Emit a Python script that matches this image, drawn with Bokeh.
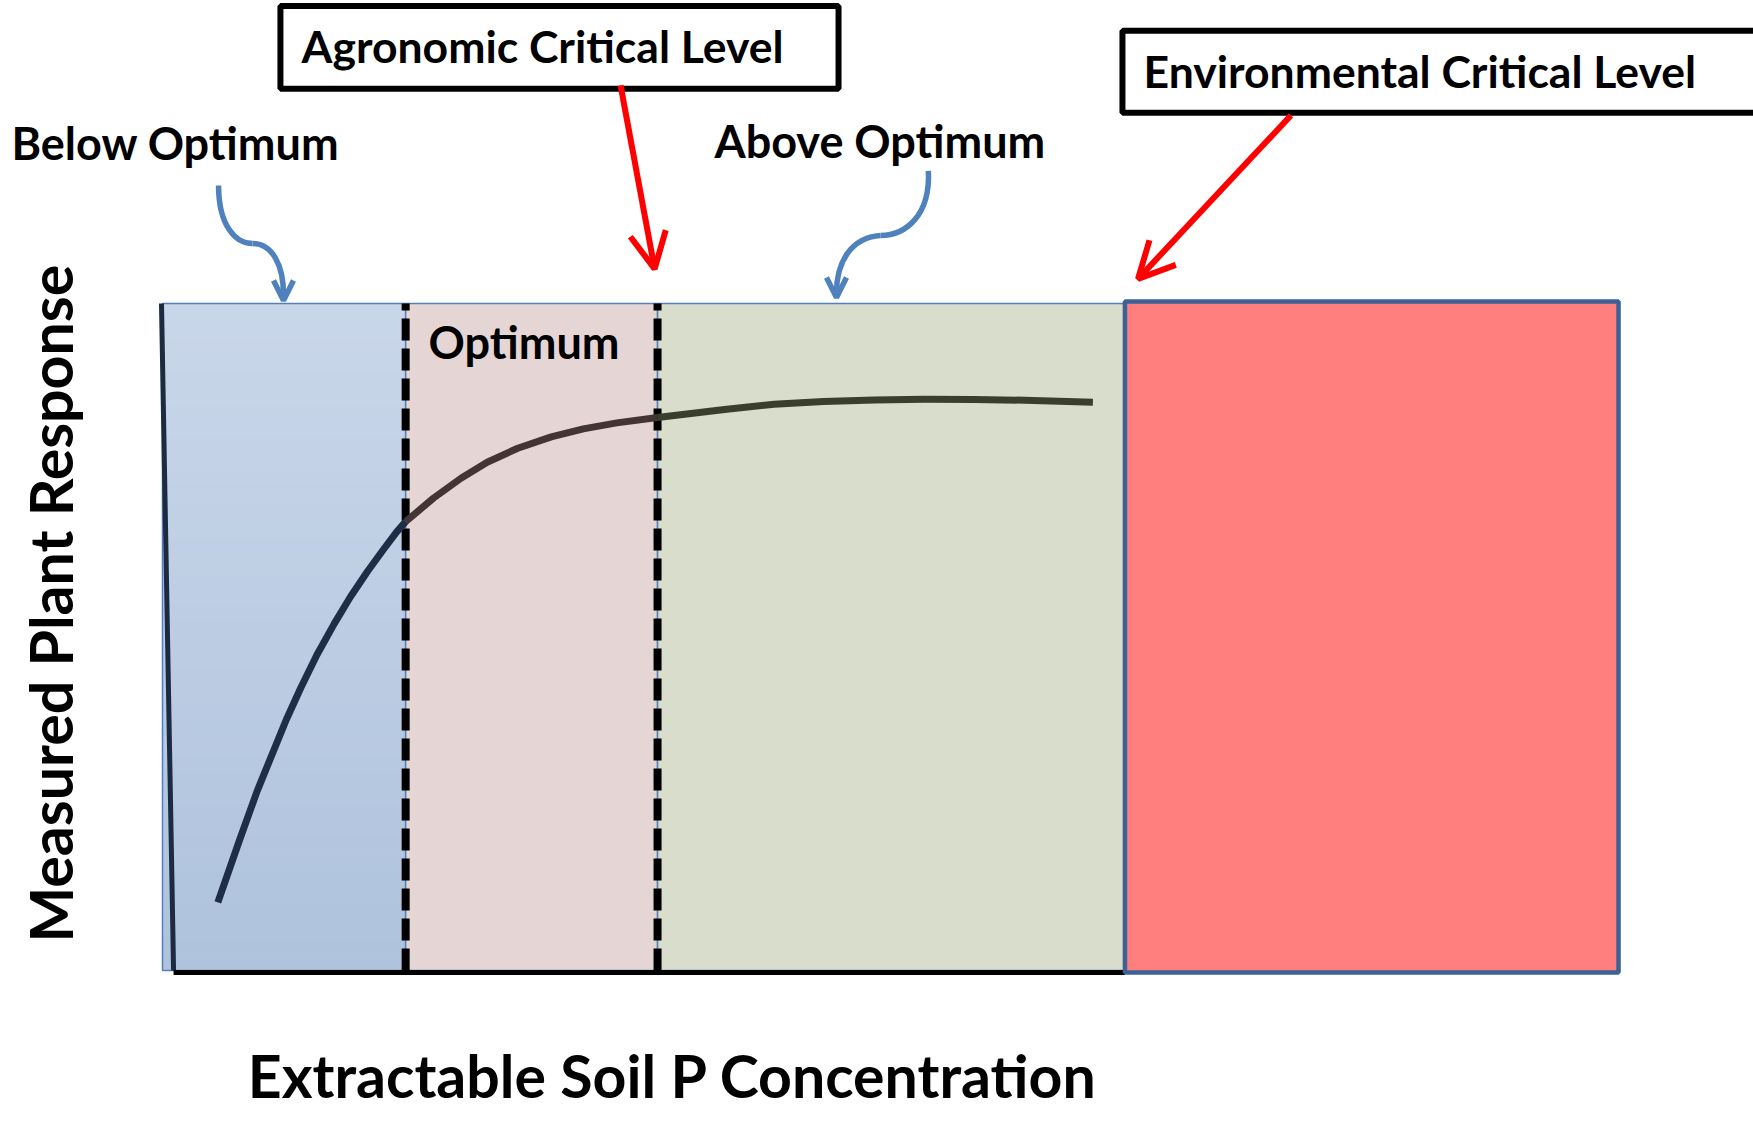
import numpy as np
from bokeh.plotting import figure
from bokeh.models import Range1d, Label, Arrow, OpenHead
from bokeh.embed import file_html
from bokeh.resources import INLINE

# ---------------- data ----------------
# zone boundaries along the soil-P axis (arbitrary units, 0-100)
zone_names = ["Below Optimum", "Optimum", "Above Optimum", "Environmental risk"]
zone_edges = [0.0, 16.7, 34.0, 66.1, 100.0]
zone_fill = ["#C0CFE5", "#E5D6D5", "#D9DDCB", "#FF7F7F"]
response_max = 100.0
dashed_levels = [16.7, 34.0]

# response curve (soil P vs. measured plant response)
curve_x = [3.8, 5.3, 6.5, 8.5, 9.5, 10.6, 11.8, 12.9, 14.1, 15.2, 16.1, 16.7,
           18.6, 20.5, 22.3, 24.4, 26.7, 28.9, 31.2, 34.0,
           38.6, 42.0, 45.4, 48.9, 52.3, 55.7, 59.2, 63.9]
curve_y = [10.2, 19.6, 26.9, 37.6, 42.4, 47.3, 52.0, 56.0, 59.9, 63.2, 65.8, 67.3,
           70.8, 73.8, 76.2, 78.3, 80.0, 81.2, 82.1, 82.9,
           84.1, 84.9, 85.3, 85.55, 85.65, 85.6, 85.5, 85.2]
curve_colors = ["#1E2E47", "#433535", "#3A3F2D"]

labels = ["Below Optimum", "Above Optimum", "Optimum",
          "Agronomic Critical Level", "Environmental Critical Level"]
x_title = "Extractable Soil P Concentration"
y_title = "Measured Plant Response"

FONT = "Lato"

p = figure(width=1753, height=1121, output_backend="svg", toolbar_location=None,
           x_range=Range1d(-11.126, 109.27), y_range=Range1d(-22.64, 145.43),
           min_border=0, min_border_left=0, min_border_right=0,
           min_border_top=0, min_border_bottom=0)
p.xaxis.visible = False
p.yaxis.visible = False
p.xgrid.visible = False
p.ygrid.visible = False
p.outline_line_color = None
p.background_fill_color = "white"
p.border_fill_color = "white"

# ---- blue zone with vertical gradient ----
n_b = 40
ys = np.linspace(0, response_max, n_b + 1)
c_bot = np.array([175, 195, 221])
c_top = np.array([202, 215, 234])
band_cols = []
for i in range(n_b):
    t = (i + 0.5) / n_b
    c = (c_bot + (c_top - c_bot) * t).astype(int)
    band_cols.append("#%02x%02x%02x" % tuple(c))
p.quad(left=[zone_edges[0]] * n_b, right=[zone_edges[1]] * n_b,
       bottom=ys[:-1], top=ys[1:], fill_color=band_cols, line_color=band_cols,
       line_width=1)
p.quad(left=[zone_edges[0]], right=[zone_edges[1]], bottom=[0], top=[response_max],
       fill_color=None, line_color="#4F81BD", line_width=1.5)

# optimum & above-optimum zones
p.quad(left=zone_edges[1:3], right=zone_edges[2:4], bottom=[0, 0],
       top=[response_max] * 2, fill_color=zone_fill[1:3],
       line_color="#4F81BD", line_width=1.5)

# dashed critical lines
for lv in dashed_levels:
    p.line([lv, lv], [0, response_max], line_color="black", line_width=8,
           line_dash="22 8")

# response curve, coloured per zone
i1 = curve_x.index(dashed_levels[0])
i2 = curve_x.index(dashed_levels[1])
seg = [(0, i1 + 1), (i1, i2 + 1), (i2, len(curve_x))]
for (a, b), col in zip(seg, curve_colors):
    p.line(curve_x[a:b], curve_y[a:b], line_color=col, line_width=7,
           line_cap="butt", line_join="round")

# left (slanted) axis stroke and bottom axis stroke
p.line([-0.07, 0.76], [response_max, 0], line_color="#1C2B42", line_width=5)
p.line([0.76, zone_edges[3]], [-0.3, -0.3], line_color="black", line_width=5)

# environmental zone
p.quad(left=[zone_edges[3]], right=[zone_edges[4]], bottom=[-0.3], top=[100.3],
       fill_color=zone_fill[3], line_color="#3B6195", line_width=4.5)

# ---- callout boxes ----
p.quad(left=[8.10], right=[46.43], bottom=[132.2], top=[144.6],
       fill_color="white", line_color="black", line_width=6)
p.quad(left=[65.93], right=[115.0], bottom=[128.6], top=[140.9],
       fill_color="white", line_color="black", line_width=6)

def lab(x, y, t, size="45px", **kw):
    p.add_layout(Label(x=x, y=y, text=t, text_font=FONT, text_font_style="bold",
                       text_font_size=size, text_color="black",
                       text_baseline="alphabetic", **kw))

lab(-10.37, 124.0, labels[0])
lab(37.91, 124.3, labels[1])
lab(18.27, 94.3, labels[2])
lab(9.55, 138.7, labels[3], size="44.5px")
lab(67.38, 134.9, labels[4], size="44.5px")
lab(35.03, -15.7, x_title, size="59px", text_align="center")
lab(-7.72, 55.0, y_title, size="59px", text_align="center", angle=np.pi / 2)

# ---- red arrows ----
RED = "#FF0000"
for xs, ys_, xe, ye in [(31.46, 132.7, 33.8, 105.2), (77.5, 128.2, 67.0, 103.7)]:
    p.add_layout(Arrow(end=OpenHead(size=36, line_color=RED, line_width=6),
                       x_start=xs, y_start=ys_, x_end=xe, y_end=ye,
                       line_color=RED, line_width=6))

# ---- blue curly arrows ----
BL = "#4F81BD"
p.bezier(x0=[3.85, 6.18], y0=[117.7, 109.0], x1=[6.18, 8.31], y1=[109.0, 101.3],
         cx0=[3.85, 7.55], cy0=[111.7, 109.0], cx1=[5.01, 8.31], cy1=[109.0, 105.7],
         line_color=BL, line_width=5.5)
p.bezier(x0=[52.6, 49.31], y0=[119.9, 110.2], x1=[49.31, 46.29], y1=[110.2, 101.6],
         cx0=[52.75, 47.25], cy0=[113.2, 109.9], cx1=[51.03, 46.29], cy1=[110.2, 106.1],
         line_color=BL, line_width=5.5)
for xt, yt in [(8.31, 100.45), (46.29, 100.9)]:
    p.add_layout(Arrow(end=OpenHead(size=20, line_color=BL, line_width=5.5),
                       x_start=xt, y_start=yt + 1.2, x_end=xt, y_end=yt,
                       line_color=BL, line_width=5.5))

open("out.html", "w").write(file_html(p, INLINE))
